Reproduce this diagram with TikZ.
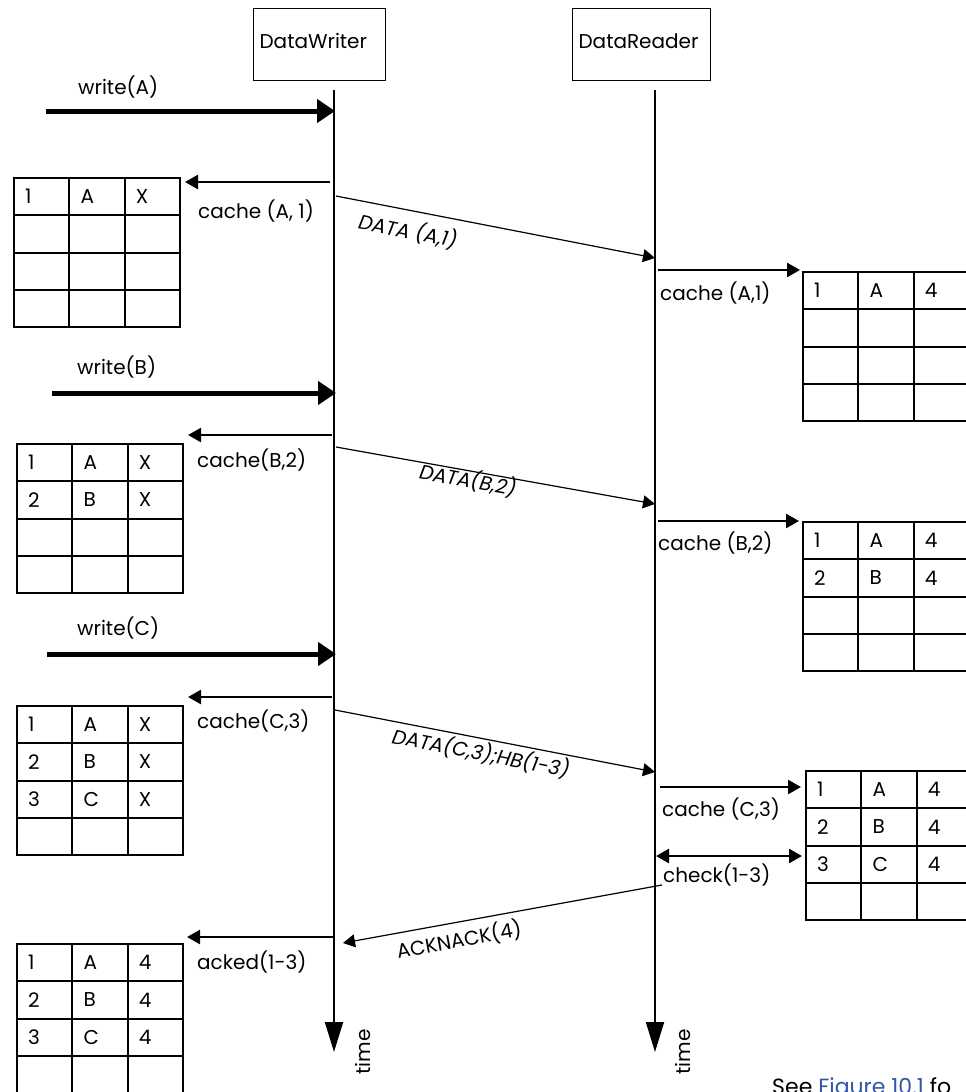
\documentclass[tikz,border=0pt]{standalone}
\usepackage{fontspec}
\setmainfont{Poppins}
\usetikzlibrary{arrows.meta}
\definecolor{linkblue}{RGB}{51,85,170}
\newcommand{\tabgrid}[3]{% name, x, y (top left)
  \coordinate (#1) at (#2,#3);
  \draw[tabline] (#2,#3) rectangle ++(166,149);
  \foreach \i in {1,2} \draw[tabline] ({#2+55.3*\i},#3) -- ++(0,149);
  \foreach \j in {1,2,3} \draw[tabline] (#2,{#3+37.25*\j}) -- ++(166,0);
}
\newcommand{\tabrow}[6]{% x, y, row, a, b, c
  \node[cell] at ({#1+11},{#2+(#3-0.5)*37.25}) {#4};
  \node[cell] at ({#1+11+55.3},{#2+(#3-0.5)*37.25}) {#5};
  \node[cell] at ({#1+11+110.6},{#2+(#3-0.5)*37.25}) {#6};
}
\begin{document}
\begin{tikzpicture}[x=1pt,y=-1pt,
  lbl/.style={font=\fontsize{20}{24}\selectfont, inner sep=0pt, anchor=west},
  ilbl/.style={font=\fontsize{20}{24}\selectfont\itshape, inner sep=0pt},
  cell/.style={font=\fontsize{20}{24}\selectfont, inner sep=0pt, anchor=west},
  tabline/.style={line width=2pt},
  actor/.style={draw, line width=1.2pt, anchor=north west, minimum height=72pt,
    text width=120pt, inner xsep=6pt, align=left, text height=15pt, text depth=8pt,
    font=\fontsize{20}{24}\selectfont},
  life/.style={line width=2pt, -{Triangle[length=30pt,width=18pt]}},
  writearrow/.style={line width=5pt, -{Triangle[length=18pt,width=23pt]}},
  cachearrow/.style={line width=2.5pt, -{Triangle[length=13pt,width=14pt]}},
  checkarrow/.style={line width=2.5pt, {Triangle[length=13pt,width=14pt]}-{Triangle[length=13pt,width=14pt]}},
  msg/.style={line width=1.2pt, -{Triangle[length=12pt,width=13pt]}}]
\clip (0,0) rectangle (966,1092);
\fill[white] (0,0) rectangle (966,1092);

% actors
\node[actor] (dw) at (253,8) {DataWriter};
\node[actor, text width=126pt] (dr) at (572,8) {DataReader};

% lifelines
\coordinate (wtop) at (334,90);
\coordinate (wbot) at (334,1052);
\coordinate (rtop) at (655,90);
\coordinate (rbot) at (655,1052);
\draw[life] (wtop) -- (wbot);
\draw[life] (rtop) -- (rbot);
\node[lbl, anchor=center, rotate=90] (tw) at (363,1052) {time};
\node[lbl, anchor=center, rotate=90] (tr) at (683,1052) {time};

% ---- write(A)
\coordinate (wA0) at (46,111); \coordinate (wA1) at (335,111);
\draw[writearrow] (wA0) -- (wA1);
\node[lbl] (lwA) at (78,87) {write(A)};
\coordinate (cA0) at (330,182); \coordinate (cA1) at (185,182);
\draw[cachearrow] (cA0) -- (cA1);
\node[lbl] (lcA) at (198,211) {cache (A, 1)};
\tabgrid{wt1}{14}{178}
\tabrow{14}{178}{1}{1}{A}{X}
\coordinate (dA0) at (336,196); \coordinate (dA1) at (655,258);
\draw[msg] (dA0) -- (dA1);
\node[ilbl, rotate=-11] (ldA) at (408,231) {DATA (A,1)};
\coordinate (rA0) at (658,270); \coordinate (rA1) at (800,270);
\draw[cachearrow] (rA0) -- (rA1);
\node[lbl] (lrA) at (660,293) {cache (A,1)};
\tabgrid{rt1}{803}{272}
\tabrow{803}{272}{1}{1}{A}{4}

% ---- write(B)
\coordinate (wB0) at (52,393); \coordinate (wB1) at (336,393);
\draw[writearrow] (wB0) -- (wB1);
\node[lbl] (lwB) at (77,367) {write(B)};
\coordinate (cB0) at (332,435); \coordinate (cB1) at (188,435);
\draw[cachearrow] (cB0) -- (cB1);
\node[lbl] (lcB) at (197,460) {cache(B,2)};
\tabgrid{wt2}{17}{444}
\tabrow{17}{444}{1}{1}{A}{X}
\tabrow{17}{444}{2}{2}{B}{X}
\coordinate (dB0) at (336,447); \coordinate (dB1) at (655,504);
\draw[msg] (dB0) -- (dB1);
\node[ilbl, rotate=-10.3] (ldB) at (468,480) {DATA(B,2)};
\coordinate (rB0) at (658,521); \coordinate (rB1) at (799,521);
\draw[cachearrow] (rB0) -- (rB1);
\node[lbl] (lrB) at (658,543) {cache (B,2)};
\tabgrid{rt2}{803}{522}
\tabrow{803}{522}{1}{1}{A}{4}
\tabrow{803}{522}{2}{2}{B}{4}

% ---- write(C)
\coordinate (wC0) at (47,654); \coordinate (wC1) at (336,654);
\draw[writearrow] (wC0) -- (wC1);
\node[lbl] (lwC) at (77,628) {write(C)};
\coordinate (cC0) at (332,697); \coordinate (cC1) at (188,697);
\draw[cachearrow] (cC0) -- (cC1);
\node[lbl] (lcC) at (197,721) {cache(C,3)};
\tabgrid{wt3}{17}{706}
\tabrow{17}{706}{1}{1}{A}{X}
\tabrow{17}{706}{2}{2}{B}{X}
\tabrow{17}{706}{3}{3}{C}{X}
\coordinate (dC0) at (335,710); \coordinate (dC1) at (655,772);
\draw[msg] (dC0) -- (dC1);
\node[ilbl, rotate=-11] (ldC) at (481,753) {DATA(C,3);HB(1-3)};
\coordinate (rC0) at (660,787); \coordinate (rC1) at (801,787);
\draw[cachearrow] (rC0) -- (rC1);
\node[lbl] (lrC) at (662,809) {cache (C,3)};
\tabgrid{rt3}{806}{771}
\tabrow{806}{771}{1}{1}{A}{4}
\tabrow{806}{771}{2}{2}{B}{4}
\tabrow{806}{771}{3}{3}{C}{4}
\coordinate (ck0) at (656,856); \coordinate (ck1) at (802,856);
\draw[checkarrow] (ck0) -- (ck1);
\node[lbl] (lck) at (663,875) {check(1-3)};

% ---- ACKNACK
\coordinate (ak0) at (662,885); \coordinate (ak1) at (343,943);
\draw[msg] (ak0) -- (ak1);
\node[lbl, anchor=center, rotate=10.3] (lak) at (459,940) {ACKNACK(4)};
\coordinate (ac0) at (334,937); \coordinate (ac1) at (187,937);
\draw[cachearrow] (ac0) -- (ac1);
\node[lbl] (lac) at (197,962) {acked(1-3)};
\tabgrid{wt4}{17}{944}
\tabrow{17}{944}{1}{1}{A}{4}
\tabrow{17}{944}{2}{2}{B}{4}
\tabrow{17}{944}{3}{3}{C}{4}

% footer
\node[lbl, font=\fontsize{22}{26}\selectfont, anchor=base west] (see) at (772,1094) {See \textcolor{linkblue}{Figure 10.1} fo};
\end{tikzpicture}
\end{document}
